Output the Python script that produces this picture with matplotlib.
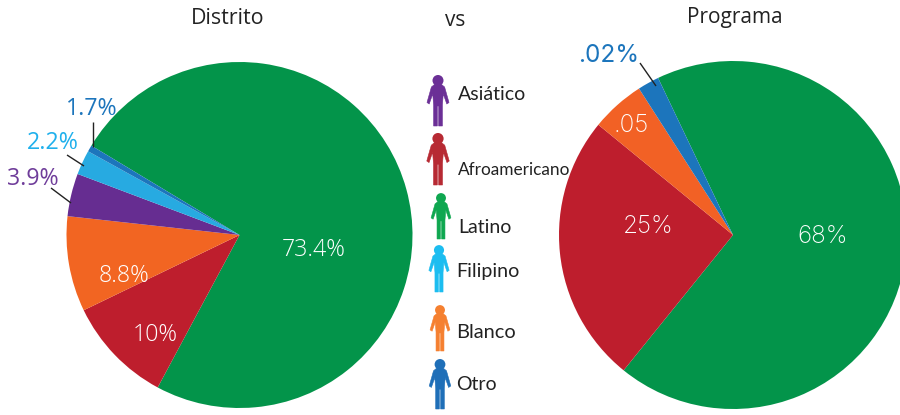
import matplotlib
matplotlib.use("Agg")
import matplotlib.pyplot as plt
from matplotlib.patches import Circle, Polygon

W, H = 900, 415

groups_left = ["Latino", "Afroamericano", "Blanco", "Asiático", "Filipino", "Otro"]
# wedge shares as they are drawn in the picture (the printed labels differ slightly)
values_left = [74.2, 10.0, 8.9, 4.0, 2.3, 0.6]
labels_left = ["73.4%", "10%", "8.8%", "3.9%", "2.2%", "1.7%"]
colors_left = ["#03944A", "#BE1E2D", "#F26522", "#662D91", "#27AAE1", "#1C75BC"]

groups_right = ["Latino", "Afroamericano", "Blanco", "Otro"]
values_right = [67.9, 25.1, 5, 2]
labels_right = ["68%", "25%", ".05", ".02%"]
colors_right = ["#03944A", "#BE1E2D", "#F26125", "#1C75BC"]

legend_names = ["Asiático", "Afroamericano", "Latino", "Filipino", "Blanco", "Otro"]
legend_colors = ["#6B2F96", "#B72A33", "#0FA750", "#1CBDF0", "#F58030", "#1F6FB8"]
legend_icon_x = [438, 438, 441, 439, 440, 440]
legend_icon_top = [76, 134, 194, 246, 306, 360]
legend_icon_h = [50, 51, 45, 46, 45, 49]
legend_text_x = [458, 458, 458, 456, 456, 456]
legend_text_y = [94, 170, 227, 271, 332, 384]
legend_text_size = [14, 12.4, 14, 14.1, 14.4, 14]

plt.rcParams["font.family"] = ["Open Sans", "DejaVu Sans"]
fig = plt.figure(figsize=(W / 100, H / 100), dpi=100, facecolor="white")


def pie_axes(cx, cy, r, values, colors, start):
    ax = fig.add_axes([(cx - r) / W, 1 - (cy + r) / H, 2 * r / W, 2 * r / H])
    ax.pie(values, colors=colors, startangle=start, counterclock=False,
           radius=1, wedgeprops=dict(linewidth=0))
    ax.set_xlim(-1, 1)
    ax.set_ylim(-1, 1)
    ax.set_axis_off()
    return ax


pie_axes(239.5, 235, 173, values_left, colors_left, 148.9)
pie_axes(733, 235, 174, values_right, colors_right, 115.5)

ov = fig.add_axes([0, 0, 1, 1], facecolor="none")
ov.set_xlim(0, W)
ov.set_ylim(H, 0)
ov.set_axis_off()

for s, x, y, fs in [("Distrito", 228, 18, 15.4), ("vs", 455, 20, 15), ("Programa", 735, 18, 15)]:
    ov.text(x, y, s, ha="center", va="center", fontsize=fs, color="#222222")

left_pos = [(314, 250), (155.5, 335), (124, 276), (33, 179), (53, 143), (91.5, 109)]
left_col = ["white", "white", "white", "#6F3D9A", "#1FB0EC", "#1C75BC"]
left_wt = ["light", "light", "light", "normal", "normal", "normal"]
for s, (x, y), c, wt in zip(labels_left, left_pos, left_col, left_wt):
    ov.text(x, y, s, ha="center", va="center", fontsize=16.7, color=c, fontweight=wt)

right_pos = [(823, 236), (648, 226), (631, 125), (609, 55)]
right_col = ["white", "white", "white", "#1C75BC"]
right_wt = ["light", "light", "light", "normal"]
for s, (x, y), c, wt in zip(labels_right, right_pos, right_col, right_wt):
    ov.text(x, y, s, ha="center", va="center", fontsize=17.5, color=c,
            family=["Inter", "DejaVu Sans"], fontweight=wt)

for (x0, y0, x1, y1) in [(93, 122, 93, 147), (67, 155, 84, 166), (51, 188, 71, 203), (640, 63, 656, 86)]:
    ov.plot([x0, x1], [y0, y1], color="#222222", lw=1.0, solid_capstyle="butt")

# person pictogram in unit coordinates (x: -0.5..0.5 of width, y: 0..1 of height)
BODY = [(-0.16, 0.17), (0.16, 0.17), (0.3, 0.22), (0.5, 0.53), (0.4, 0.56), (0.24, 0.36),
        (0.2, 0.58), (0.2, 1.0), (0.03, 1.0), (0.03, 0.6), (-0.03, 0.6), (-0.03, 1.0),
        (-0.2, 1.0), (-0.2, 0.58), (-0.24, 0.36), (-0.4, 0.56), (-0.5, 0.53), (-0.3, 0.22)]


def person(cx, top, h, color):
    w = h * 0.44
    pts = [(cx + px * w, top + py * h) for px, py in BODY]
    ov.add_patch(Polygon(pts, closed=True, fc=color, ec=color, lw=0.4, joinstyle="round"))
    ov.add_patch(Circle((cx, top + 0.09 * h), 0.11 * h, fc=color, ec="none"))


for name, col, ix, it, ih, tx, ty, ts in zip(legend_names, legend_colors, legend_icon_x, legend_icon_top,
                                             legend_icon_h, legend_text_x, legend_text_y, legend_text_size):
    person(ix, it, ih, col)
    ov.text(tx, ty, name, ha="left", va="center", fontsize=ts, family=["Lato", "DejaVu Sans"], color="#222222")

fig.savefig("out.png", dpi=100)
